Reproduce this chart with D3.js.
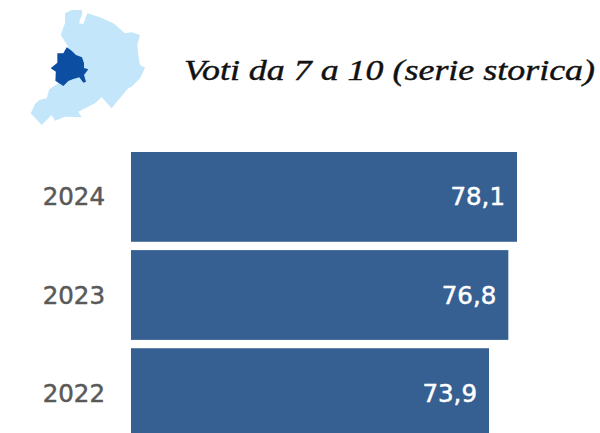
<!DOCTYPE html>
<html><head><meta charset="utf-8">
<style>html,body{margin:0;padding:0;background:#fff;overflow:hidden}svg{display:block}</style>
<script src="https://cdn.jsdelivr.net/npm/d3@7"></script></head>
<body><svg id="c" width="600" height="433"></svg>
<script>
const years = ["2024","2023","2022"];
const values = [78.1,76.8,73.9];
const valueLabels = ["78,1","76,8","73,9"];
const titleText = "Voti da 7 a 10 (serie storica)";
const regionOutline = [[195,40],[215,30],[245,30],[247,40],[237,70],[250,72],[262,40],[300,52],[340,70],[375,100],[395,97],[420,105],[412,135],[415,165],[420,195],[435,203],[420,235],[395,260],[385,265],[355,300],[335,325],[305,292],[285,310],[235,335],[245,352],[195,350],[165,362],[155,345],[125,375],[92,340],[105,312],[118,300],[140,295],[148,268],[175,250],[165,225],[165,205],[205,140],[182,105],[195,70]];
const provinceOutline = [[200,142],[215,152],[228,165],[246,172],[252,190],[252,204],[265,208],[252,225],[258,245],[250,248],[238,232],[218,238],[205,243],[190,258],[166,242],[168,215],[152,205],[172,188],[172,160],[190,160]];

const svg = d3.select("#c");
const x = d3.scaleLinear().domain([20.2,78.1]).range([131,517]);
const y = d3.scaleBand().domain(years).range([152,438]).paddingInner(0.085).paddingOuter(0);

const mapScale = d3.scaleLinear().domain([0,600]).range([0,200]);
const outline = d3.line().x(d=>mapScale(d[0])).y(d=>mapScale(d[1])).curve(d3.curveLinearClosed);
svg.append("path").attr("d",outline(regionOutline)).attr("fill","#c3e6fb");
svg.append("path").attr("d",outline(provinceOutline)).attr("fill","#0b4ea2");

svg.append("text").attr("x",184).attr("y",80).text(titleText)
  .attr("font-family","'Liberation Serif'").attr("font-style","italic")
  .attr("font-size",29).attr("fill","#111").attr("stroke","#111").attr("stroke-width",0.4)
  .attr("textLength",411).attr("lengthAdjust","spacingAndGlyphs");

svg.selectAll("rect.bar").data(values).join("rect").attr("class","bar")
  .attr("x",x.range()[0]).attr("y",(d,i)=>y(years[i]))
  .attr("width",d=>x(d)-x.range()[0]).attr("height",y.bandwidth())
  .attr("fill","#376092");

svg.selectAll("text.val").data(values).join("text").attr("class","val")
  .attr("x",d=>x(d)-12).attr("y",(d,i)=>y(years[i])+y.bandwidth()/2+8.5)
  .attr("text-anchor","end").attr("font-family","'DejaVu Sans', sans-serif")
  .attr("font-size",24.5).attr("fill","#fff").attr("stroke","#fff").attr("stroke-width",0.5).text((d,i)=>valueLabels[i]);

svg.selectAll("text.yr").data(years).join("text").attr("class","yr")
  .attr("x",105).attr("y",d=>y(d)+y.bandwidth()/2+8.5)
  .attr("text-anchor","end").attr("font-family","'DejaVu Sans', sans-serif")
  .attr("font-size",24.5).attr("fill","#595959").attr("stroke","#595959").attr("stroke-width",0.5).text(d=>d);
</script></body></html>
